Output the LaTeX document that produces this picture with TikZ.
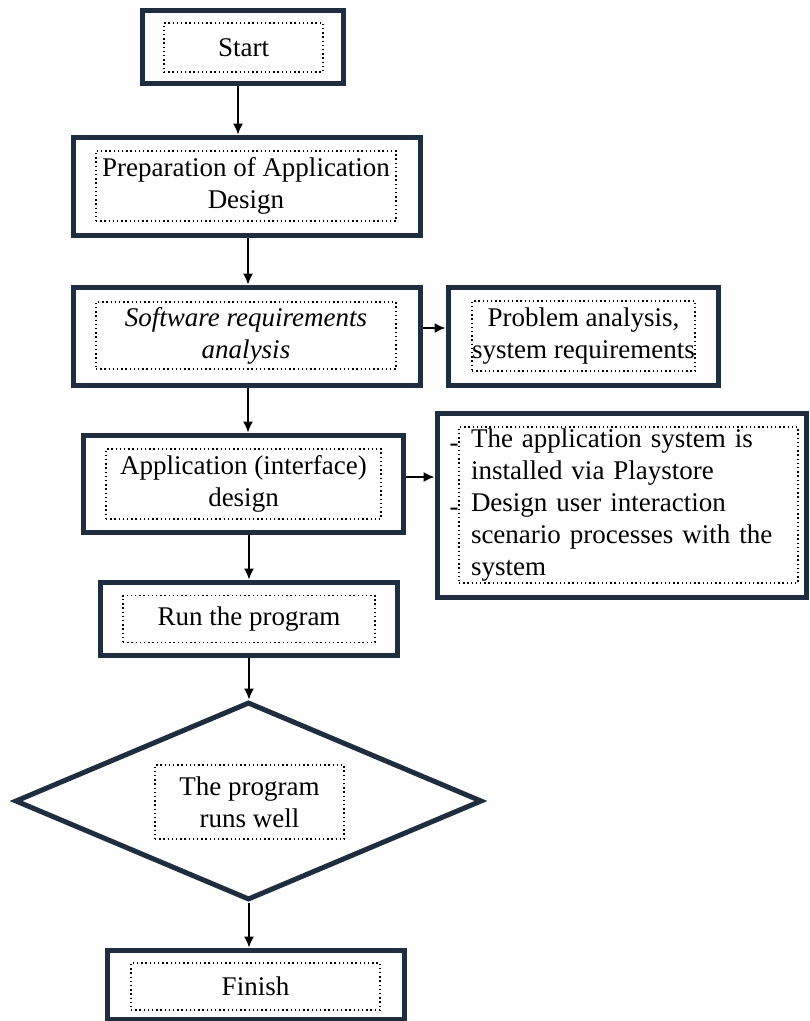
\documentclass[tikz,border=0pt]{standalone}
\usepackage{fontspec}
\setmainfont{Liberation Serif}
\usetikzlibrary{arrows.meta,shapes.geometric}
\definecolor{navy}{RGB}{31,45,64}
\newcommand{\fs}{\fontsize{27}{32}\selectfont}
\tikzset{
  outerbox/.style={draw=navy, line width=5pt, fill=white, inner sep=0pt, rectangle},
  innerbox/.style={draw=black, dash pattern=on 1.4pt off 2.8pt, line width=1.4pt, inner sep=0pt, align=center, font=\fs},
  arr/.style={line width=1.5pt, draw=black, -{Latex[length=11pt,width=10pt]}},
}
\begin{document}
\begin{tikzpicture}[x=1pt,y=-1pt]
\useasboundingbox (0,0) rectangle (810,1021);
% Start
\node[outerbox, minimum width=201pt, minimum height=73pt] (start) at (242.5,46.5) {};
\node[innerbox, minimum width=159pt, minimum height=49pt] (starti) at (243.5,47.5) {Start};
% Preparation
\node[outerbox, minimum width=347pt, minimum height=98pt] (prep) at (246.5,186) {};
\node[innerbox, minimum width=300pt, minimum height=70pt] (prepi) at (246,186) {Preparation of Application\\Design};
% Software
\node[outerbox, minimum width=347pt, minimum height=98pt] (soft) at (246.5,336) {};
\node[innerbox, minimum width=300pt, minimum height=67pt, font=\fs\itshape] (softi) at (246,335.5) {Software requirements\\analysis};
% Problem
\node[outerbox, minimum width=270pt, minimum height=98pt] (prob) at (583,336) {};
\node[innerbox, minimum width=223pt, minimum height=70pt] (probi) at (583.5,336) {Problem analysis,\\system requirements};
% Application design
\node[outerbox, minimum width=320pt, minimum height=97pt] (app) at (243,483.5) {};
\node[innerbox, minimum width=275pt, minimum height=70pt] (appi) at (243.5,484) {Application (interface)\\design};
% List
\node[outerbox, minimum width=369pt, minimum height=184pt] (list) at (621.5,505) {};
\node[innerbox, minimum width=339pt, minimum height=156pt, align=left, text width=315pt, inner xsep=12pt, font=\fs\raggedright] (listi) at (628.5,505) {The application system is\\installed via Playstore\\Design user interaction\\scenario processes with the\\system};
\node[font=\fs, inner sep=0pt, anchor=base] (dash1) at (454,451) {-};
\node[font=\fs, inner sep=0pt, anchor=base] (dash2) at (454,515) {-};
% Run
\node[outerbox, minimum width=297pt, minimum height=73pt] (run) at (248.5,618.5) {};
\node[innerbox, minimum width=252pt, minimum height=47pt] (runi) at (249,619) {Run the program};
% Decision
\node[draw=navy, line width=5pt, fill=white, diamond, inner sep=0pt, minimum width=467pt, minimum height=198pt] (dec) at (248.5,801) {};
\node[innerbox, minimum width=189pt, minimum height=74pt] (deci) at (249.5,802) {The program\\runs well};
% Finish
\node[outerbox, minimum width=297pt, minimum height=69pt] (fin) at (255.5,984.5) {};
\node[innerbox, minimum width=249pt, minimum height=47pt] (fini) at (255.5,986.5) {Finish};
% helper coordinates
\coordinate (c1) at (238,0);
\coordinate (c2) at (248,0);
\coordinate (c3) at (249,0);
\coordinate (h1) at (0,328);
\coordinate (h2) at (0,477);
% connectors
\draw[arr] (start.south -| c1) -- (prep.north -| c1);
\draw[arr] (prep.south -| c2) -- (soft.north -| c2);
\draw[arr] (soft.south -| c2) -- (app.north -| c2);
\draw[arr] (app.south -| c3) -- (run.north -| c3);
\draw[arr] (run.south -| c3) -- (dec.north -| c3);
\draw[arr] (dec.south -| c3) -- (fin.north -| c3);
\draw[arr] (soft.east |- h1) -- (prob.west |- h1);
\draw[arr] (app.east |- h2) -- (list.west |- h2);
\end{tikzpicture}
\end{document}
